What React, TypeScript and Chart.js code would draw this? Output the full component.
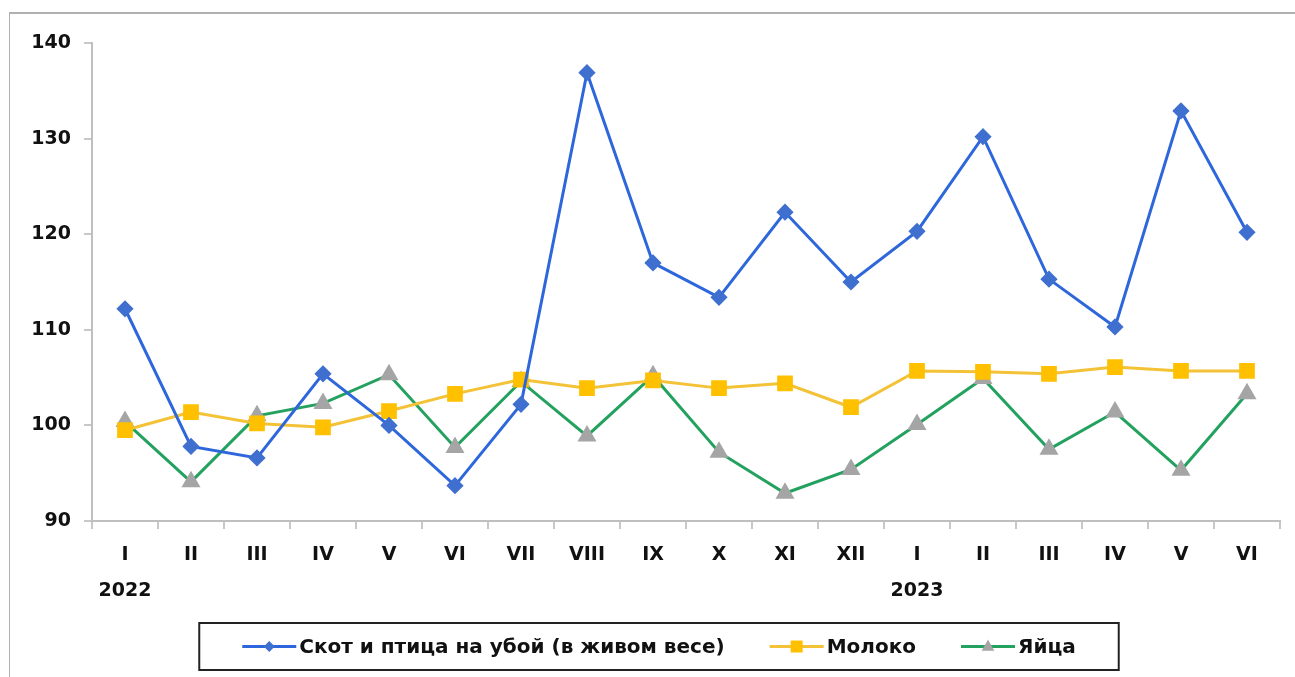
import React, { useEffect, useRef } from "react";
import { Chart, registerables } from "chart.js";

Chart.register(...registerables);

const months: string[] = ["I", "II", "III", "IV", "V", "VI", "VII", "VIII", "IX", "X", "XI", "XII", "I", "II", "III", "IV", "V", "VI"];
const years: string[] = ["2022", "", "", "", "", "", "", "", "", "", "", "", "2023", "", "", "", "", ""];

const livestock: number[] = [112.2, 97.8, 96.6, 105.4, 100.0, 93.7, 102.2, 136.9, 117.0, 113.4, 122.3, 115.0, 120.3, 130.2, 115.3, 110.3, 132.9, 120.2];
const milk: number[] = [99.5, 101.4, 100.2, 99.8, 101.5, 103.3, 104.8, 103.9, 104.7, 103.9, 104.4, 101.9, 105.7, 105.6, 105.4, 106.1, 105.7, 105.7];
const eggs: number[] = [100.4, 94.1, 101.0, 102.3, 105.3, 97.7, 104.6, 98.9, 105.2, 97.2, 92.9, 95.4, 100.1, 104.9, 97.5, 101.4, 95.3, 103.3];

const seriesNames: string[] = ["Скот и птица на убой (в живом весе)", "Молоко", "Яйца"];

const FONT = "'DejaVu Sans', sans-serif";

const legendPlugin = {
  id: "boxLegend",
  afterDraw(chart: any) {
    const ctx = chart.ctx as CanvasRenderingContext2D;
    const ds = chart.data.datasets;
    ctx.save();
    ctx.font = `bold 20px ${FONT}`;
    const sym = 54;
    const gap = 45;
    const widths = ds.map((d: any) => sym + 3 + ctx.measureText(d.label).width);
    const total = widths.reduce((a: number, b: number) => a + b, 0) + gap * (ds.length - 1);
    const padX = 43;
    const boxW = total + padX * 2;
    const boxH = 47;
    const cx = 649;
    const boxX = cx - boxW / 2;
    const boxY = 609;
    ctx.lineWidth = 2;
    ctx.strokeStyle = "#222";
    ctx.strokeRect(boxX, boxY, boxW, boxH);
    let x = boxX + padX;
    const y = boxY + boxH / 2;
    ds.forEach((d: any, i: number) => {
      ctx.strokeStyle = d.borderColor;
      ctx.lineWidth = 3;
      ctx.beginPath();
      ctx.moveTo(x, y);
      ctx.lineTo(x + sym, y);
      ctx.stroke();
      const mx = x + sym / 2;
      ctx.fillStyle = d.pointBackgroundColor;
      ctx.beginPath();
      const r = d.pointRadius - 1;
      if (d.pointStyle === "rectRot") {
        ctx.moveTo(mx, y - r);
        ctx.lineTo(mx + r, y);
        ctx.lineTo(mx, y + r);
        ctx.lineTo(mx - r, y);
      } else if (d.pointStyle === "rect") {
        ctx.rect(mx - r * 0.75, y - r * 0.75, r * 1.5, r * 1.5);
      } else {
        ctx.moveTo(mx, y - r);
        ctx.lineTo(mx + r * 0.9, y + r * 0.6);
        ctx.lineTo(mx - r * 0.9, y + r * 0.6);
      }
      ctx.closePath();
      ctx.fill();
      ctx.fillStyle = "#111";
      ctx.textBaseline = "middle";
      ctx.textAlign = "left";
      ctx.fillText(d.label, x + sym + 3, y + 1);
      x += widths[i] + gap;
    });
    ctx.restore();
  },
};

export default function App() {
  const ref = useRef<HTMLCanvasElement | null>(null);
  useEffect(() => {
    if (!ref.current) return;
    const chart = new Chart(ref.current, {
      type: "line",
      data: {
        labels: months.map((m, i) => (years[i] ? [m, years[i]] : [m, ""])),
        datasets: [
          {
            label: seriesNames[0],
            data: livestock,
            borderColor: "#2E67DC",
            backgroundColor: "#3F6FCF",
            pointBackgroundColor: "#3F6FCF",
            pointBorderColor: "#3F6FCF",
            pointStyle: "rectRot",
            pointRadius: 6.5,
            borderWidth: 3,
            tension: 0,
          },
          {
            label: seriesNames[1],
            data: milk,
            borderColor: "#F4C236",
            backgroundColor: "#FFC000",
            pointBackgroundColor: "#FFC000",
            pointBorderColor: "#FFC000",
            pointStyle: "rect",
            pointRadius: 9,
            borderWidth: 3,
            tension: 0,
          },
          {
            label: seriesNames[2],
            data: eggs,
            borderColor: "#23A15E",
            backgroundColor: "#A5A5A5",
            pointBackgroundColor: "#A5A5A5",
            pointBorderColor: "#A5A5A5",
            pointStyle: "triangle",
            pointRadius: 8,
            borderWidth: 3,
            tension: 0,
          },
        ],
      },
      options: {
        responsive: false,
        animation: false,
        layout: { padding: { left: 0, right: 15, top: 29, bottom: 56 } },
        plugins: { legend: { display: false }, tooltip: { enabled: false } },
        scales: {
          x: {
            offset: true,
            grid: { offset: true, drawOnChartArea: false, drawTicks: true, tickLength: 8, color: "#C8C8C8", lineWidth: 2 },
            border: { display: true, color: "#BFBFBF", width: 2 },
            ticks: { color: "#111", font: { family: FONT, size: 19, weight: "bold", lineHeight: 1.9 }, padding: 8, maxRotation: 0, autoSkip: false },
            afterFit: (s: any) => { s.height = 100; },
          },
          y: {
            min: 90,
            max: 140,
            grid: { drawOnChartArea: false, drawTicks: true, tickLength: 8, color: "#C8C8C8", lineWidth: 2 },
            border: { display: true, color: "#BFBFBF", width: 2 },
            ticks: { stepSize: 10, color: "#111", font: { family: FONT, size: 19, weight: "bold" }, padding: 13 },
            afterFit: (s: any) => { s.width = 82; },
          },
        },
      },
      plugins: [legendPlugin],
    });
    return () => chart.destroy();
  }, []);
  return (
    <div style={{ position: "absolute", left: 9, top: 12, width: 1286, height: 665, borderLeft: "1px solid #B0B0B0", borderTop: "2px solid #B0B0B0", boxSizing: "border-box", background: "#fff" }}>
      <canvas ref={ref} width={1285} height={663} style={{ display: "block", width: 1285, height: 663 }} />
    </div>
  );
}
